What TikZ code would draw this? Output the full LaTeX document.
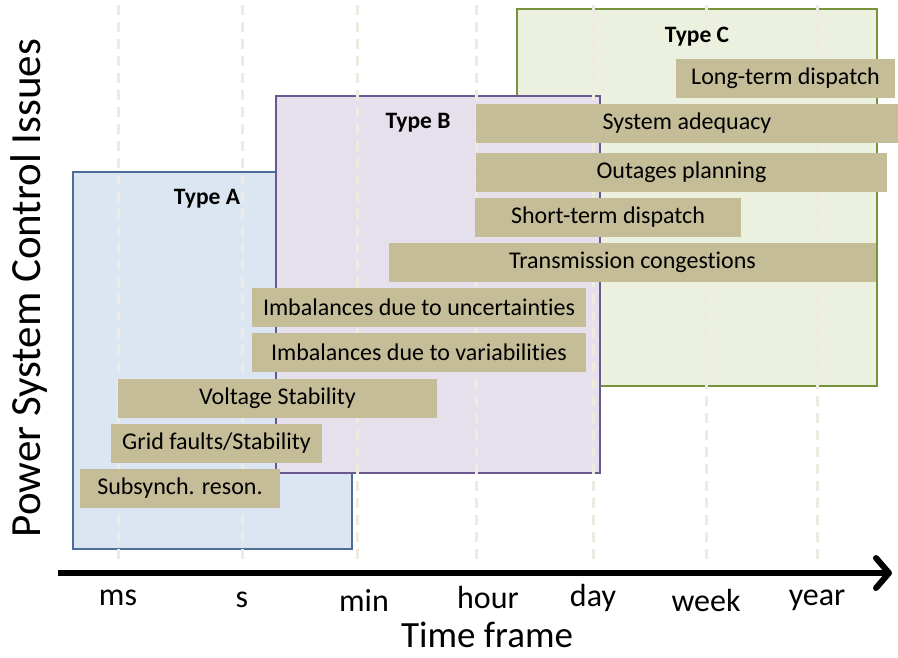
\documentclass[tikz,border=0pt]{standalone}
\usepackage{fontspec}
\setmainfont{Carlito}[Ligatures={NoCommon}]
\usetikzlibrary{arrows.meta}
\definecolor{tanbar}{HTML}{C4BD97}
\definecolor{gridbeige}{HTML}{EEECE1}
\definecolor{afill}{HTML}{DCE6F2}
\definecolor{aline}{HTML}{4A6D9A}
\definecolor{bfill}{HTML}{E5E0EC}
\definecolor{bline}{HTML}{6A5890}
\definecolor{cfill}{HTML}{EBF1DE}
\definecolor{cline}{HTML}{77933C}
\tikzset{
  issue/.style={fill=tanbar, inner sep=0pt, minimum height=39pt, font=\fontsize{24}{27}\selectfont, text=black},
  typebox/.style={line width=2pt},
  typelabel/.style={font=\bfseries\fontsize{23.5}{26}\selectfont, inner sep=0pt},
  gridline/.style={gridbeige, line width=3pt, dash pattern=on 10pt off 7pt},
  ticklabel/.style={font=\fontsize{32}{35}\selectfont, inner sep=0pt},
}
\begin{document}
\begin{tikzpicture}[x=1pt,y=-1pt]
\useasboundingbox (0,0) rectangle (898,657);
% category boxes
\draw[typebox, draw=cline, fill=cfill] (517,9) rectangle (877,386);
\draw[typebox, draw=aline, fill=afill] (73,172) rectangle (352,549);
\draw[typebox, draw=bline, fill=bfill] (276,96) rectangle (600,473);
% time scale guides
\foreach \gx in {118,242,357,476,593,706,817}
  \draw[gridline] (\gx,5) -- (\gx,562);
% issue bars
\node[issue, minimum width=219pt] (ltd) at (785.5,78.5) {Long-term dispatch};
\node[issue, minimum width=422pt] (sad) at (687,123.5) {System adequacy};
\node[issue, minimum width=411pt] (opl) at (681.5,172.5) {Outages planning};
\node[issue, minimum width=266pt] (std) at (608,217.5) {Short-term dispatch};
\node[issue, minimum width=487pt] (tco) at (632.5,262.5) {Transmission congestions};
\node[issue, minimum width=334pt] (iun) at (419,307.5) {Imbalances due to uncertainties};
\node[issue, minimum width=334pt] (iva) at (419,352.5) {Imbalances due to variabilities};
\node[issue, minimum width=319pt] (vst) at (277.5,398.5) {Voltage Stability};
\node[issue, minimum width=211pt] (gfs) at (216.5,443.5) {Grid faults/Stability};
\node[issue, minimum width=200pt] (ssr) at (180,488.5) {Subsynch. reson.};
% box titles
\node[typelabel] (ta) at (207,199) {Type A};
\node[typelabel] (tb) at (418,123) {Type B};
\node[typelabel] (tc) at (697,37) {Type C};
% time axis
\coordinate (axs) at (58,573);
\coordinate (axe) at (892,573);
\draw[line width=6pt, -{Straight Barb[length=13pt, width=30pt, line cap=round, line join=round]}] (axs) -- (axe);
\node[ticklabel] (lms) at (118,598) {ms};
\node[ticklabel] (ls) at (242,600) {s};
\node[ticklabel] (lmin) at (364,600) {min};
\node[ticklabel] (lhour) at (488,597) {hour};
\node[ticklabel] (lday) at (593,598) {day};
\node[ticklabel] (lweek) at (706,600) {week};
\node[ticklabel] (lyear) at (817,600) {year};
\node[font=\fontsize{37}{40}\selectfont, inner sep=0pt] (xt) at (487,635) {Time frame};
\node[font=\fontsize{43}{46}\selectfont, inner sep=0pt, rotate=90] (yt) at (29,288) {Power System Control Issues};
\end{tikzpicture}
\end{document}
